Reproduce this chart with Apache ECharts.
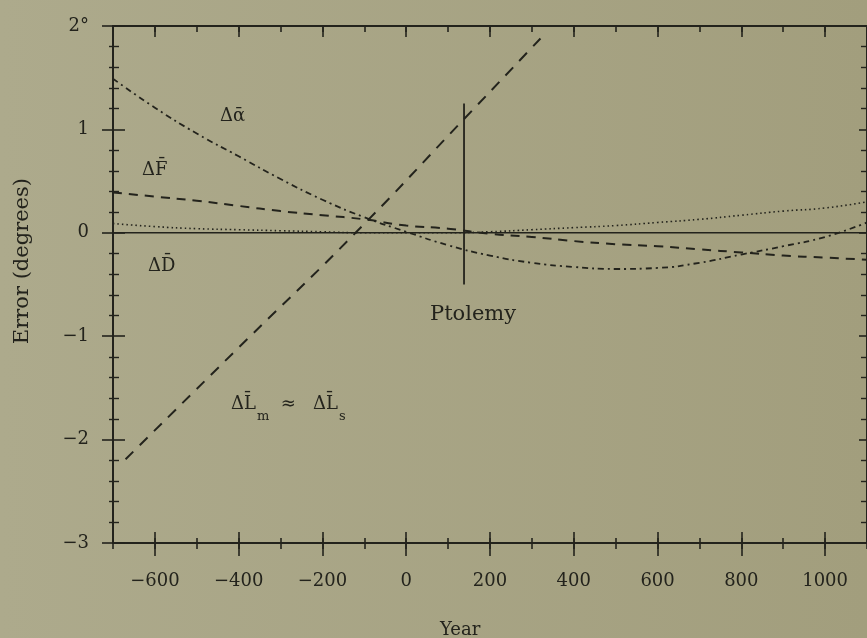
<!DOCTYPE html>
<html>
<head>
<meta charset="utf-8">
<script src="https://cdn.jsdelivr.net/npm/echarts@6/dist/echarts.min.js"></script>
<style>
  html, body { margin: 0; padding: 0; }
  #chart { width: 867px; height: 638px; }
</style>
</head>
<body>
<div id="chart"></div>
<script>
// tick positions / labels
var xMajor = [-600, -400, -200, 0, 200, 400, 600, 800, 1000];

// curves, every 100 years
var years    = [-700, -600, -500, -400, -300, -200, -100, 0, 100, 200, 300, 400, 500, 600, 700, 800, 900, 1000, 1100];
var alphaErr = [1.49, 1.21, 0.96, 0.74, 0.52, 0.32, 0.15, 0.01, -0.12, -0.22, -0.29, -0.33, -0.35, -0.34, -0.29, -0.21, -0.13, -0.04, 0.10];
var fErr     = [0.39, 0.35, 0.31, 0.26, 0.21, 0.17, 0.13, 0.07, 0.04, -0.01, -0.04, -0.08, -0.11, -0.13, -0.16, -0.19, -0.22, -0.24, -0.26];
var dErr     = [0.09, 0.06, 0.04, 0.03, 0.02, 0.01, 0.00, 0.00, 0.00, 0.01, 0.03, 0.05, 0.07, 0.10, 0.13, 0.17, 0.21, 0.24, 0.30];

// mean longitude error (nearly straight)
var lYears = [-670, -400, -121, 138, 330];
var lErr   = [-2.19, -1.11, 0.00, 1.10, 1.92];

// Ptolemy marker and the zero line
var ptolemyYear = 138;
var ptolemyRange = [1.25, -0.5];
var zeroYears = [-700, 1100];

function pairs(xs, ys) {
    var out = [];
    for (var i = 0; i < xs.length; i++) out.push([xs[i], ys[i]]);
    return out;
}

var ink = '#23231c';
var serif = 'DejaVu Serif';

function xAx(pos, opts) {
    var a = {
        type: 'value', position: pos, min: -700, max: 1100, interval: 100,
        axisLine: { show: false, onZero: false, lineStyle: { color: ink, width: 2 } },
        axisTick: { show: true, lineStyle: { color: ink, width: 1.6 } },
        axisLabel: { show: false },
        splitLine: { show: false }
    };
    return echarts.util.merge(a, opts, true);
}
function yAx(pos, opts) {
    var a = {
        type: 'value', position: pos, min: -3, max: 2, interval: 1,
        axisLine: { show: false, onZero: false, lineStyle: { color: ink, width: 2 } },
        axisTick: { show: true, lineStyle: { color: ink, width: 1.6 } },
        minorTick: { show: true, splitNumber: 5, lineStyle: { color: ink, width: 1.4 } },
        axisLabel: { show: false },
        splitLine: { show: false }
    };
    return echarts.util.merge(a, opts, true);
}

var chart = echarts.init(document.getElementById('chart'));
var option = {
    animation: false,
    backgroundColor: {
        type: 'linear', x: 0, y: 0, x2: 1, y2: 0,
        colorStops: [{ offset: 0, color: '#adaa8c' }, { offset: 1, color: '#a29e7d' }]
    },
    grid: { left: 113, top: 26, width: 756, height: 517 },
    xAxis: [
        xAx('bottom', { axisLine: { show: true }, axisTick: { inside: true, length: 5 } }),
        xAx('bottom', { axisTick: { inside: false, length: 6 } }),
        xAx('bottom', { axisTick: { inside: true, length: 11, customValues: xMajor } }),
        xAx('bottom', {
            axisTick: { inside: false, length: 13, customValues: xMajor },
            axisLabel: {
                show: true, customValues: xMajor, margin: 29,
                fontFamily: serif, fontSize: 18, color: ink,
                formatter: function (v) { return v < 0 ? '\u2212' + Math.abs(v) : String(v); }
            }
        }),
        xAx('top', { axisLine: { show: true }, axisTick: { inside: true, length: 6 } }),
        xAx('top', { axisTick: { inside: true, length: 11, customValues: xMajor } })
    ],
    yAxis: [
        yAx('left', { axisLine: { show: true }, axisTick: { inside: true, length: 12 }, minorTick: { length: 6 } }),
        yAx('left', {
            axisTick: { inside: false, length: 11 }, minorTick: { length: 4 },
            axisLabel: {
                show: true, margin: 24, fontFamily: serif, fontSize: 18, color: ink,
                formatter: function (v) {
                    if (v === 2) return '2\u00b0';
                    return v < 0 ? '\u2212' + Math.abs(v) : String(v);
                }
            }
        }),
        yAx('right', { axisLine: { show: true }, axisTick: { inside: true, length: 8 }, minorTick: { length: 6 } })
    ],
    series: [
        {
            name: 'zero', type: 'line', data: pairs(zeroYears, [0, 0]),
            showSymbol: false, lineStyle: { color: ink, width: 1.5 }
        },
        {
            name: 'Ptolemy', type: 'line', data: pairs([ptolemyYear, ptolemyYear], ptolemyRange),
            showSymbol: false, lineStyle: { color: ink, width: 1.8 }
        },
        {
            name: 'dL', type: 'line', data: pairs(lYears, lErr), smooth: true,
            showSymbol: false, lineStyle: { color: ink, width: 2, type: [11, 9] }
        },
        {
            name: 'dAlpha', type: 'line', data: pairs(years, alphaErr), smooth: true,
            showSymbol: false, lineStyle: { color: ink, width: 1.8, type: [6, 4, 2, 4] }
        },
        {
            name: 'dF', type: 'line', data: pairs(years, fErr), smooth: true,
            showSymbol: false, lineStyle: { color: ink, width: 2, type: [9, 7] }
        },
        {
            name: 'dD', type: 'line', data: pairs(years, dErr), smooth: true,
            showSymbol: false, lineStyle: { color: ink, width: 1.6, type: [1.5, 3] }
        }
    ],
    graphic: [
        { type: 'text', left: 220, top: 107, style: { text: '\u0394\u1fb1', font: '18px "DejaVu Serif"', fill: ink } },
        { type: 'text', left: 142, top: 161, style: { text: '\u0394F\u0304', font: '18px "DejaVu Serif"', fill: ink } },
        { type: 'text', left: 148, top: 257, style: { text: '\u0394D\u0304', font: '18px "DejaVu Serif"', fill: ink } },
        {
            type: 'text', left: 231, top: 395,
            style: {
                text: '{m|\u0394L\u0304}{sub|m}{m|  \u2248   \u0394L\u0304}{sub|s}',
                rich: {
                    m: { font: '18px "DejaVu Serif"', fill: ink, verticalAlign: 'top', lineHeight: 22 },
                    sub: { font: '13px "DejaVu Serif"', fill: ink, padding: [15, 0, 0, 1], verticalAlign: 'top', lineHeight: 22 }
                }
            }
        },
        { type: 'text', left: 430, top: 304, style: { text: 'Ptolemy', font: '21px "DejaVu Serif"', fill: ink } },
        {
            type: 'text', left: 12, top: 178, rotation: Math.PI / 2,
            style: { text: 'Error (degrees)', font: '21px "DejaVu Serif"', fill: ink }
        },
        { type: 'text', left: 440, top: 621, style: { text: 'Year', font: '18px "DejaVu Serif"', fill: ink } }
    ]
};
chart.setOption(option);
</script>
</body>
</html>
